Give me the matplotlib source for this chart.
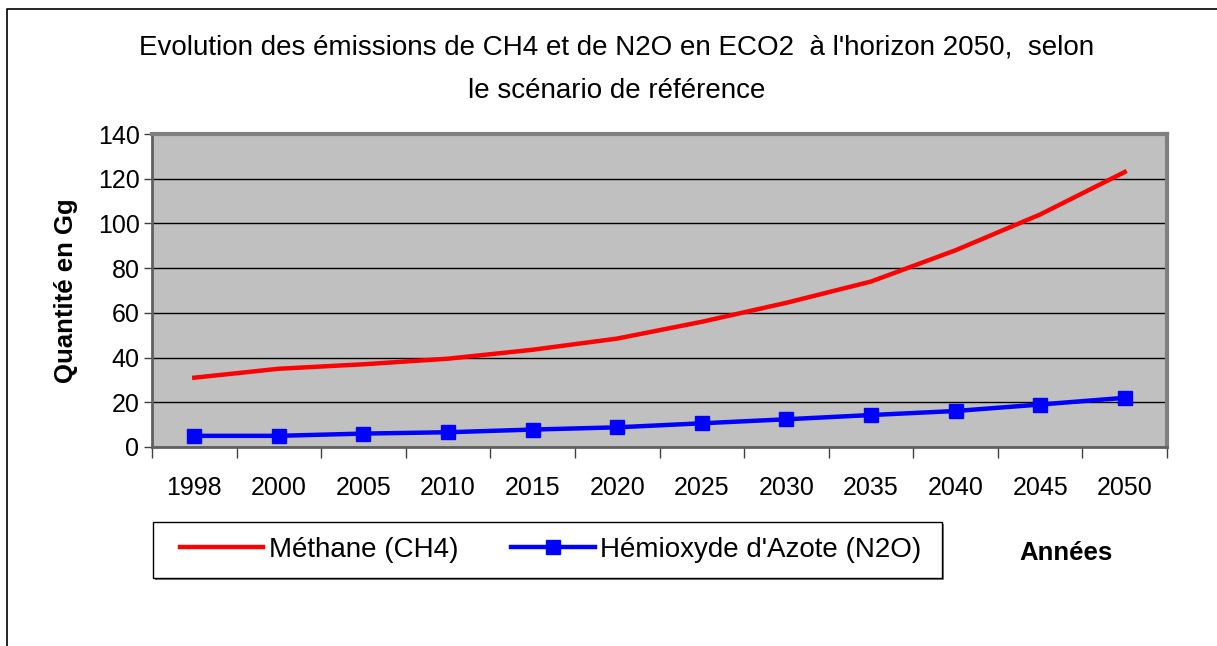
import numpy as np
import matplotlib
matplotlib.use("Agg")
import matplotlib.pyplot as plt
from matplotlib.lines import Line2D
from matplotlib.patches import Rectangle

plt.rcParams['font.family'] = ['Liberation Sans', 'DejaVu Sans']

# data
annees = ['1998', '2000', '2005', '2010', '2015', '2020',
          '2025', '2030', '2035', '2040', '2045', '2050']
methane = [31, 35, 37, 39.5, 43.5, 48.5, 56, 64.5, 74, 88, 104, 123]
n2o = [5, 5, 6, 6.6, 7.8, 8.8, 10.6, 12.4, 14.3, 16.1, 19, 22]
yticks = [0, 20, 40, 60, 80, 100, 120, 140]

W, H = 1217, 646
fig = plt.figure(figsize=(W / 100, H / 100), dpi=100)
fig.patch.set_facecolor('white')

# outer frame (only top and left visible in the reference)
fig.add_artist(Line2D([7 / W, 7 / W, 1.0], [0.0, 1 - 9 / H, 1 - 9 / H],
                      transform=fig.transFigure, color='black', lw=1.2))

ax = fig.add_axes([152 / W, 1 - 447 / H, (1167 - 152) / W, (447 - 134) / H])
ax.set_facecolor('#c0c0c0')

x = np.arange(len(annees))
ax.plot(x, methane, color='#ff0000', lw=3.2, label='Méthane (CH4)', zorder=3)
ax.plot(x, n2o, color='#0000ff', lw=3.2, marker='s', markersize=9.5,
        label="Hémioxyde d'Azote (N2O)", zorder=3)

ax.set_xlim(-0.5, len(annees) - 0.5)
ax.set_ylim(0, 140)
ax.set_yticks(yticks)
ax.set_yticklabels([str(v) for v in yticks], fontsize=18)
ax.yaxis.grid(True, color='black', lw=1)
ax.set_axisbelow(True)

ax.set_xticks(x)
ax.set_xticklabels(annees, fontsize=18)
ax.set_xticks(np.arange(-0.5, len(annees)), minor=True)
ax.tick_params(axis='x', which='major', length=0, pad=21)
ax.tick_params(axis='x', which='minor', length=8, width=1, color='#404040')
ax.tick_params(axis='y', length=6, width=1, pad=3, color='#404040')

for side in ['top', 'right']:
    ax.spines[side].set_color('#808080')
    ax.spines[side].set_linewidth(3)
for side in ['left', 'bottom']:
    ax.spines[side].set_color('#606060')
    ax.spines[side].set_linewidth(2)

ax.set_ylabel('Quantité en Gg', fontsize=18.5, fontweight='bold', labelpad=14)

fig.text(617 / W, 1 - 48 / H,
         "Evolution des émissions de CH4 et de N2O en ECO2  à l'horizon 2050,  selon",
         ha='center', va='center', fontsize=20)
fig.text(617 / W, 1 - 91 / H, 'le scénario de référence',
         ha='center', va='center', fontsize=20)

fig.text(1066 / W, 1 - 553 / H, 'Années', ha='center', va='center',
         fontsize=18.5, fontweight='bold')

# legend box drawn separately, legend itself frameless
fig.add_artist(Rectangle((155 / W, 1 - 580 / H), 789 / W, 56 / H,
                         transform=fig.transFigure, facecolor='#808080',
                         edgecolor='none', zorder=1))
fig.add_artist(Rectangle((153 / W, 1 - 578 / H), 789 / W, 56 / H,
                         transform=fig.transFigure, facecolor='white',
                         edgecolor='black', lw=1, zorder=2))
leg = fig.legend(loc='center left', ncol=2,
                 bbox_to_anchor=(180 / W, 1 - 550 / H),
                 bbox_transform=fig.transFigure, fontsize=20,
                 frameon=False, handlelength=3.0, handletextpad=0.2,
                 columnspacing=1.9, borderpad=0, borderaxespad=0)
leg.set_zorder(3)

fig.savefig('out.png', dpi=100)
